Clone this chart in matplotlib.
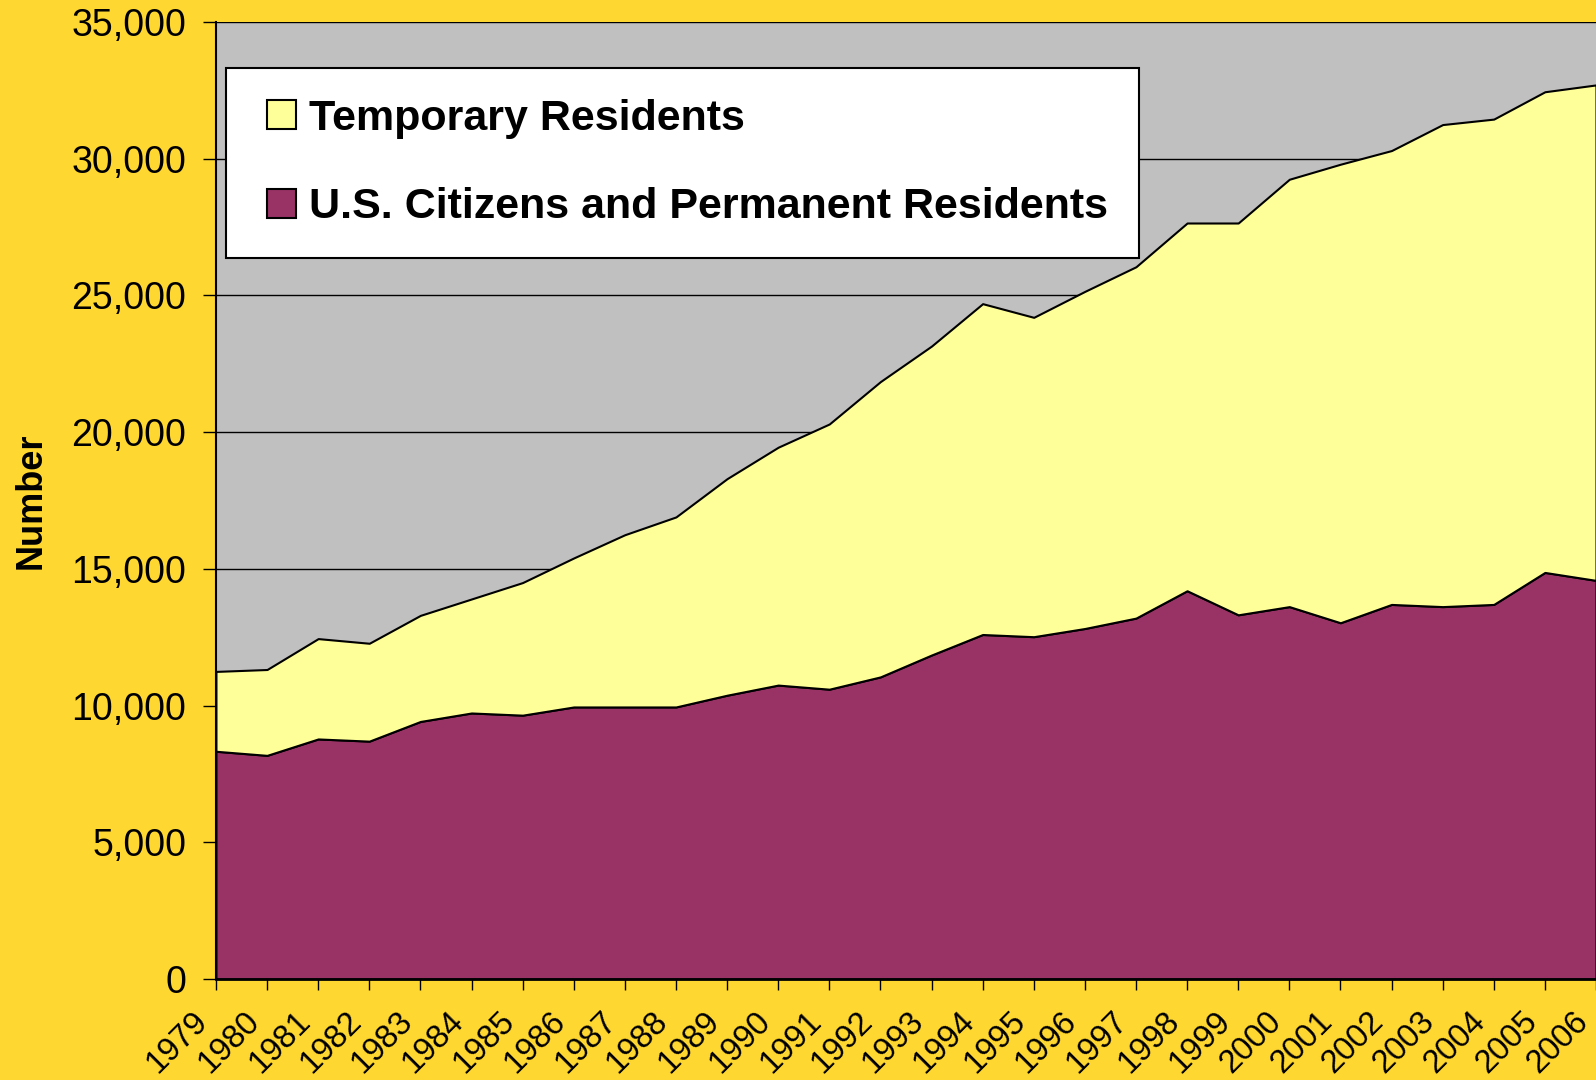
import matplotlib
matplotlib.use('Agg')
import matplotlib.pyplot as plt
from matplotlib.ticker import FuncFormatter
from matplotlib.patches import Patch, Rectangle
from matplotlib.legend_handler import HandlerPatch
from matplotlib.transforms import ScaledTranslation

years = list(range(1979, 2007))
citizens = [8330, 8180, 8780, 8700, 9420, 9730, 9650, 9950, 9950, 9950,
            10380, 10750, 10600, 11050, 11850, 12600, 12520, 12820, 13200, 14200,
            13320, 13620, 13030, 13700, 13620, 13700, 14870, 14580]
totals = [11250, 11320, 12450, 12280, 13300, 13900, 14500, 15400, 16250, 16900,
          18300, 19450, 20300, 21850, 23150, 24700, 24200, 25150, 26050, 27650,
          27650, 29250, 29800, 30300, 31250, 31450, 32450, 32700]
temporary = [t - c for t, c in zip(totals, citizens)]

labels = ['U.S. Citizens and Permanent Residents', 'Temporary Residents']
colors = ['#993366', '#FFFF99']

plt.rcParams['font.family'] = ['Liberation Sans', 'DejaVu Sans']

fig = plt.figure(figsize=(15.96, 10.8), dpi=100, facecolor='#FFD731')
ax = fig.add_axes([0.1353, 0.0935, 0.8647, 0.8861])
ax.set_facecolor('#C0C0C0')

ax.yaxis.grid(True, color='black', linewidth=1.0)
ax.set_axisbelow(True)

ax.stackplot(years, citizens, temporary, colors=colors,
             edgecolor='black', linewidth=1.5, zorder=2)

ax.set_xlim(1979, 2006)
ax.set_ylim(0, 35000)
ax.set_xticks(years)
ax.set_xticklabels([str(y) for y in years], rotation=45, ha='right', va='top',
                   rotation_mode='anchor', fontsize=23.5)
ax.set_yticks(range(0, 35001, 5000))
ax.yaxis.set_major_formatter(FuncFormatter(lambda v, p: f'{int(v):,}'))
ax.tick_params(axis='y', labelsize=27, length=9.5, width=1, direction='out', pad=12)
ax.tick_params(axis='x', length=8, width=1, direction='out', pad=11)

# shift the rotated year labels left of their ticks, like the original
shift = ScaledTranslation(-17 / 72, 0, fig.dpi_scale_trans)
for lab in ax.get_xticklabels():
    lab.set_transform(lab.get_transform() + shift)

for side in ['top', 'right']:
    ax.spines[side].set_visible(False)
ax.spines['left'].set_linewidth(1.5)
ax.spines['bottom'].set_linewidth(2)

ax.set_ylabel('Number', fontsize=26, fontweight='bold')
ax.yaxis.set_label_coords(-0.121, 0.5)


def square_handle(legend, orig_handle, xdescent, ydescent, width, height, fontsize):
    s = height
    return Rectangle((width - s - xdescent, -ydescent), s, s)


handles = [Patch(facecolor=colors[1], edgecolor='black', linewidth=1.5),
           Patch(facecolor=colors[0], edgecolor='black', linewidth=1.5)]
leg = ax.legend(handles, [labels[1], labels[0]], loc='upper left',
                bbox_to_anchor=(0.0072, 0.952), borderaxespad=0,
                prop={'size': 31, 'weight': 'bold'}, frameon=True, fancybox=False,
                edgecolor='black', framealpha=1, facecolor='white',
                handlelength=0.9, handleheight=0.66, handletextpad=0.3,
                labelspacing=1.12, borderpad=0.72,
                handler_map={Patch: HandlerPatch(patch_func=square_handle)})
leg.get_frame().set_linewidth(1.5)

fig.savefig('out.png', dpi=100, facecolor=fig.get_facecolor())
